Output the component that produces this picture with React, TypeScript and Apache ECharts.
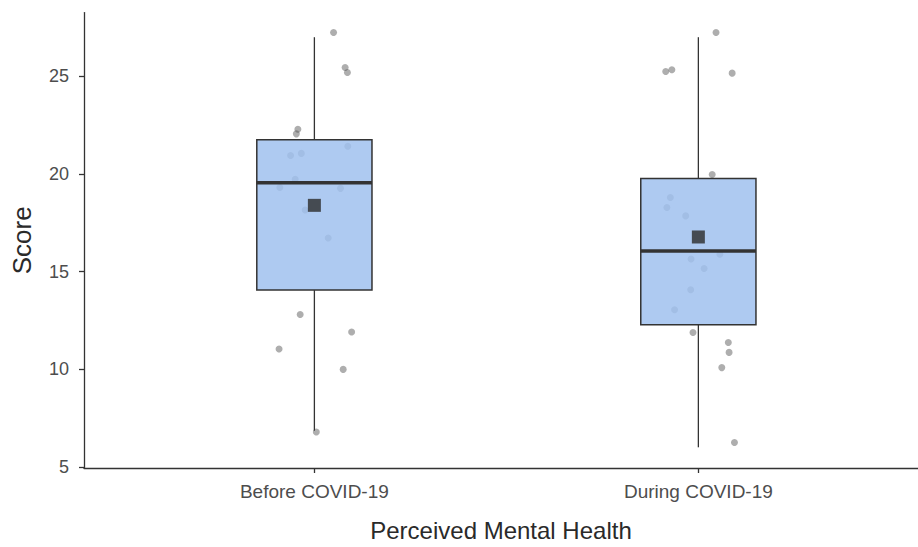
import React, { useEffect, useRef } from "react";
import * as echarts from "echarts";

const categories = ["Before COVID-19", "During COVID-19"];
const catPositions = [1, 2];
const whiskerLow = [6.85, 6.0];
const quartile1 = [14.05, 12.27];
const medians = [19.55, 16.05];
const quartile3 = [21.75, 19.77];
const whiskerHigh = [27.0, 27.0];
const means = [18.39, 16.77];

const beforeScores = [27.24, 25.45, 25.19, 22.29, 22.05, 20.94, 21.05, 21.42, 19.72, 19.3, 19.26, 18.15, 16.72, 12.8, 11.9, 11.03, 9.99, 6.78];
const beforeJitter = [0.05, 0.08, 0.086, -0.043, -0.047, -0.062, -0.034, 0.087, -0.05, -0.09, 0.068, -0.024, 0.036, -0.037, 0.097, -0.092, 0.075, 0.005];
const duringScores = [27.24, 25.24, 25.33, 25.16, 19.97, 18.79, 18.28, 17.85, 15.89, 15.64, 15.16, 14.07, 13.04, 11.88, 11.37, 10.86, 10.08, 6.25];
const duringJitter = [0.046, -0.085, -0.069, 0.088, 0.036, -0.073, -0.082, -0.033, 0.056, -0.019, 0.015, -0.02, -0.062, -0.014, 0.078, 0.08, 0.061, 0.094];

const yTicks = [5, 10, 15, 20, 25];
const FONT = '"Liberation Sans", Arial, sans-serif';

export default function App() {
  const ref = useRef<HTMLDivElement>(null);
  useEffect(() => {
    if (!ref.current) return;
    const chart = echarts.init(ref.current, null, { renderer: "svg" });
    const pointData = [
      ...beforeScores.map((v, i) => [catPositions[0] + beforeJitter[i], v]),
      ...duringScores.map((v, i) => [catPositions[1] + duringJitter[i], v]),
    ];
    const boxData = catPositions.map((x, i) => [x, whiskerLow[i], quartile1[i], medians[i], quartile3[i], whiskerHigh[i]]);
    const meanData = catPositions.map((x, i) => [x, means[i]]);
    const boxWidth = 0.3;
    chart.setOption({
      animation: false,
      backgroundColor: "#ffffff",
      grid: { left: 84, right: 0, top: 12.6, bottom: 77.3, containLabel: false },
      xAxis: {
        type: "value",
        min: 0.4,
        max: 2.572,
        name: "Perceived Mental Health",
        nameLocation: "middle",
        nameGap: 50,
        nameTextStyle: { fontFamily: FONT, fontSize: 24, color: "#2a2a2a" },
        axisLine: { show: true, onZero: false, lineStyle: { color: "#333", width: 1.3 } },
        axisTick: { show: true, length: 5, customValues: catPositions, lineStyle: { color: "#333", width: 1.3 } },
        axisLabel: {
          show: true,
          customValues: catPositions,
          margin: 14,
          fontFamily: FONT,
          fontSize: 19,
          color: "#4d4d4d",
          formatter: (v: number) => {
            const idx = catPositions.indexOf(Math.round(v));
            return idx >= 0 ? categories[idx] : "";
          },
        },
        splitLine: { show: false },
      },
      yAxis: {
        type: "value",
        min: 4.94,
        max: 28.26,
        name: "Score",
        nameLocation: "middle",
        nameGap: 49,
        nameTextStyle: { fontFamily: FONT, fontSize: 26, color: "#2a2a2a" },
        axisLine: { show: true, onZero: false, lineStyle: { color: "#333", width: 1.3 } },
        axisTick: { show: true, length: 5, customValues: yTicks, lineStyle: { color: "#333", width: 1.3 } },
        axisLabel: { show: true, customValues: yTicks, margin: 15, fontFamily: FONT, fontSize: 18, color: "#4d4d4d" },
        splitLine: { show: false },
      },
      series: [
        {
          type: "scatter",
          data: pointData,
          symbol: "circle",
          symbolSize: 7,
          itemStyle: { color: "rgba(70,70,70,0.55)" },
          z: 1,
        },
        {
          type: "custom",
          data: boxData,
          z: 2,
          renderItem: (params: any, api: any) => {
            const x = api.value(0);
            const pMin = api.coord([x, api.value(1)]);
            const pQ1 = api.coord([x, api.value(2)]);
            const pMed = api.coord([x, api.value(3)]);
            const pQ3 = api.coord([x, api.value(4)]);
            const pMax = api.coord([x, api.value(5)]);
            const w = api.size([boxWidth, 0])[0];
            const left = pMed[0] - w / 2;
            return {
              type: "group",
              children: [
                { type: "line", shape: { x1: pMax[0], y1: pMax[1], x2: pQ3[0], y2: pQ3[1] }, style: { stroke: "#333", lineWidth: 1.3 } },
                { type: "line", shape: { x1: pQ1[0], y1: pQ1[1], x2: pMin[0], y2: pMin[1] }, style: { stroke: "#333", lineWidth: 1.3 } },
                {
                  type: "rect",
                  shape: { x: left, y: pQ3[1], width: w, height: pQ1[1] - pQ3[1] },
                  style: { fill: "rgba(160,193,238,0.85)", stroke: "#333", lineWidth: 1.5 },
                },
                { type: "line", shape: { x1: left, y1: pMed[1], x2: left + w, y2: pMed[1] }, style: { stroke: "#333", lineWidth: 3.5 } },
              ],
            };
          },
        },
        {
          type: "scatter",
          data: meanData,
          symbol: "rect",
          symbolSize: 13,
          itemStyle: { color: "#2b2b2b" },
          z: 3,
        },
      ],
    });
    return () => chart.dispose();
  }, []);
  return <div ref={ref} style={{ position: "fixed", left: 0, top: 0, width: 918, height: 547 }} />;
}
